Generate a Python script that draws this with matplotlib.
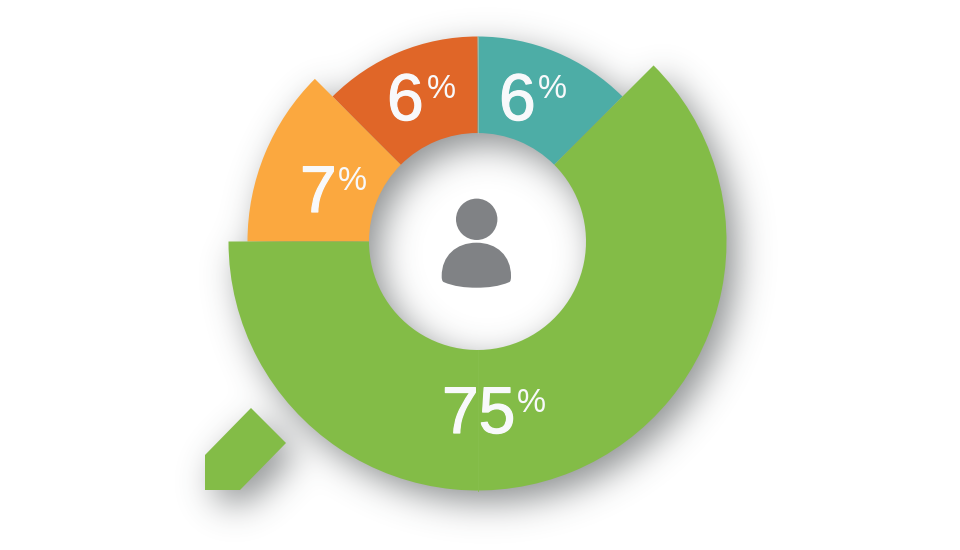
import numpy as np
import matplotlib
matplotlib.use("Agg")
import matplotlib.pyplot as plt
import matplotlib.patheffects as pe
from matplotlib.patches import Wedge, Circle, Polygon, PathPatch
from matplotlib.path import Path

# ---- data ----
shares = [6, 7, 6, 75]                       # printed percentages
segment_names = ["teal", "orange", "red", "green"]
# drawn sweep of every segment (the picture is not to scale), degrees, counter-clockwise
theta_start = [45, 135, 90, 180]
theta_end = [90, 180, 135, 405]
outer_radius = [205, 230, 205, 249]
colors = ["#4DADA6", "#FBA83F", "#E06628", "#83BC47"]
label_anchor = [(499, 120), (300, 212), (387, 120), (442, 433)]
pct_anchor = [(538, 98), (338, 190), (427, 98), (517, 412)]
draw_order = [0, 2, 1, 3]

INNER_R = 108.5
CX, CY = 477.5, 241.5
W, H = 960, 550
GREY = "#808285"


def px(x, y):
    return x - CX, CY - y


pointer_px = [(205, 455), (251, 408), (286, 443), (240, 490), (205, 490)]
pointer = [px(*p) for p in pointer_px]

plt.rcParams["font.family"] = ["Liberation Sans", "DejaVu Sans"]
fig = plt.figure(figsize=(W / 100, H / 100), dpi=100)
ax = fig.add_axes([0, 0, 1, 1])
ax.set_xlim(-CX, W - CX)
ax.set_ylim(CY - H, CY)
ax.set_aspect("equal")
ax.axis("off")

# soft drop shadow computed from the same geometry
xs = np.arange(W) + 0.5 - CX
ys = CY - (np.arange(H) + 0.5)
X, Y = np.meshgrid(xs, ys)
R = np.hypot(X, Y)
A = np.degrees(np.arctan2(Y, X)) % 360
mask = np.zeros((H, W))
for t0, t1, r in zip(theta_start, theta_end, outer_radius):
    in_angle = ((A - t0) % 360) <= (t1 - t0)
    mask[in_angle & (R <= r) & (R >= INNER_R)] = 1
pts = np.column_stack([X.ravel(), Y.ravel()])
mask[Path(pointer).contains_points(pts).reshape(H, W)] = 1

sigma, dx, dy, strength = 17.0, 10, 12, 0.58
pad = 90
big = np.pad(mask, pad)
fy = np.fft.fftfreq(big.shape[0])[:, None]
fx = np.fft.fftfreq(big.shape[1])[None, :]
kernel = np.exp(-2 * (np.pi * sigma) ** 2 * (fx ** 2 + fy ** 2))
phase = np.exp(-2j * np.pi * (fx * dx + fy * dy))
blur = np.fft.ifft2(np.fft.fft2(big) * kernel * phase).real[pad:-pad, pad:-pad]
rgba = np.zeros((H, W, 4))
rgba[..., :3] = np.array([0.24, 0.26, 0.27])
rgba[..., 3] = np.clip(blur, 0, 1) * strength
ax.imshow(rgba, extent=(-CX, W - CX, CY - H, CY), origin="upper", zorder=1,
          interpolation="bilinear", aspect="equal")
ax.set_xlim(-CX, W - CX)
ax.set_ylim(CY - H, CY)

# ring segments
for i in draw_order:
    ax.add_patch(Wedge((0, 0), outer_radius[i], theta_start[i], theta_end[i],
                       width=outer_radius[i] - INNER_R, facecolor=colors[i],
                       edgecolor="none", zorder=2 + draw_order.index(i) * 0.1))

# pointer in the colour of the largest segment
ax.add_patch(Polygon(pointer, closed=True, facecolor=colors[3], edgecolor="none", zorder=3))

# faint seams
ax.plot([0, 0], [-INNER_R, -outer_radius[3]], color="#87BF4D", lw=0.6, zorder=3.1)
ax.plot([0, 0], [INNER_R, outer_radius[0]], color="#BFC9B0", lw=0.4, zorder=3.1)

# labels
stroke_big = [pe.withStroke(linewidth=0.9, foreground="#F8F9FB")]
for i in range(len(shares)):
    ax.text(*px(*label_anchor[i]), str(shares[i]), color="#F8F9FB", fontsize=47.5,
            ha="left", va="baseline", zorder=4, path_effects=stroke_big)
    ax.text(*px(*pct_anchor[i]), "%", color="#F8F9FB", fontsize=23.5,
            ha="left", va="baseline", zorder=4)

# person icon
ax.add_patch(Circle(px(476.7, 219.3), 20.7, facecolor=GREY, edgecolor="none", zorder=4))
body_px = [(441.7, 276), (441.7, 256), (456, 242.7), (476.5, 242.7),
           (497, 242.7), (511, 256), (511, 276),
           (511, 279), (510.8, 281), (509.5, 282),
           (499, 286.5), (488, 287.7), (476.5, 287.7),
           (465, 287.7), (454, 286.5), (443.5, 282),
           (442, 281), (441.7, 279), (441.7, 276)]
codes = [Path.MOVETO] + [Path.CURVE4] * 18
ax.add_patch(PathPatch(Path([px(*p) for p in body_px], codes), facecolor=GREY,
                       edgecolor="none", zorder=4))

fig.savefig("out.png", dpi=100, facecolor="white")
